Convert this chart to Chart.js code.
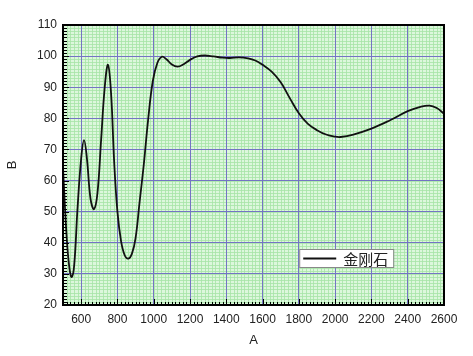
<!DOCTYPE html>
<html>
<head>
<meta charset="utf-8">
<script src="https://cdn.jsdelivr.net/npm/chart.js@4.4.0/dist/chart.umd.min.js"></script>
<style>
html,body{margin:0;padding:0;background:#fff;}
#wrap{width:473px;height:356px;}
</style>
</head>
<body>
<div id="wrap"><canvas id="c" width="473" height="356"></canvas></div>
<script>
const seriesName = '金刚石';
const xValues = [500,520,535,548,562,580,600,616,632,652,671,690,710,730,748,765,782,800,820,840,860,880,900,922,945,970,995,1020,1045,1070,1100,1132,1165,1200,1240,1280,1330,1380,1420,1470,1520,1560,1600,1650,1700,1750,1800,1850,1900,1950,2000,2030,2100,2200,2300,2400,2470,2520,2560,2600];
const yValues = [64,42,32,29,33,51,67,73,67,54,50.8,56,73,90,97.2,88,66,50,40.5,36,34.9,36.5,41.5,53,65,80,92,97.8,99.8,99,97.3,96.6,97.4,98.8,99.9,100.2,99.9,99.5,99.4,99.6,99.3,98.6,97.2,95,91.6,86.5,81.6,78.2,76.2,74.8,74.1,74,74.8,76.7,79.3,82.3,83.7,84.1,83.3,81.5];
const xTickLabels = [600,800,1000,1200,1400,1600,1800,2000,2200,2400,2600];
const yTickLabels = [20,30,40,50,60,70,80,90,100,110];
const xMin = 500, xMax = 2600, xMajor = 200, xMinor = 20;
const yMin = 20, yMax = 110, yMajor = 10, yMinor = 1;

const points = xValues.map((x,i)=>({x:x,y:yValues[i]}));

const paperPlugin = {
  id:'paper',
  beforeDraw(chart){
    const {ctx, chartArea:a, scales:{x,y}} = chart;
    ctx.save();
    ctx.fillStyle = '#dcf7dc';
    ctx.fillRect(a.left,a.top,a.right-a.left,a.bottom-a.top);
    ctx.strokeStyle = '#a6e3a6';
    ctx.lineWidth = 0.8;
    ctx.beginPath();
    for(let v=xMin; v<=xMax; v+=xMinor){
      const px = Math.round(x.getPixelForValue(v))+0.5;
      ctx.moveTo(px,a.top); ctx.lineTo(px,a.bottom);
    }
    for(let v=yMin; v<=yMax; v+=yMinor){
      const py = Math.round(y.getPixelForValue(v))+0.5;
      ctx.moveTo(a.left,py); ctx.lineTo(a.right,py);
    }
    ctx.stroke();
    ctx.restore();
  },
  afterDraw(chart){
    const {ctx, chartArea:a, scales:{x,y}} = chart;
    ctx.save();
    ctx.strokeStyle = '#000';
    ctx.lineWidth = 1;
    ctx.beginPath();
    for(let v=xMin; v<=xMax; v+=xMinor){
      const px = Math.round(x.getPixelForValue(v))+0.5;
      const len = (v % xMajor === 0) ? 6 : 3;
      ctx.moveTo(px,a.bottom); ctx.lineTo(px,a.bottom-len);
    }
    for(let v=yMin; v<=yMax; v+=yMinor){
      const py = Math.round(y.getPixelForValue(v))+0.5;
      const len = (v % yMajor === 0) ? 6 : 4;
      ctx.moveTo(a.left,py); ctx.lineTo(a.left+len,py);
    }
    ctx.stroke();
    ctx.lineWidth = 2;
    ctx.strokeRect(a.left,a.top,a.right-a.left,a.bottom-a.top);
    // legend
    const w = a.right-a.left, h = a.bottom-a.top;
    const lx = a.left + w*0.62, ly = a.top + h*0.80;
    const bw = 94, bh = 18;
    ctx.fillStyle = '#fff';
    ctx.fillRect(lx,ly,bw,bh);
    ctx.lineWidth = 1;
    ctx.strokeStyle = '#888';
    ctx.strokeRect(lx+0.5,ly+0.5,bw,bh);
    ctx.strokeStyle = '#111';
    ctx.lineWidth = 2;
    ctx.beginPath();
    ctx.moveTo(lx+4, ly+bh/2+0.5); ctx.lineTo(lx+37, ly+bh/2+0.5);
    ctx.stroke();
    ctx.fillStyle = '#222';
    ctx.font = '15px "Noto Sans CJK SC"';
    ctx.textBaseline = 'middle';
    ctx.textAlign = 'left';
    ctx.fillText(seriesName, lx+44, ly+bh/2+1);
    ctx.restore();
  }
};

new Chart(document.getElementById('c'), {
  type:'line',
  data:{datasets:[{
    label:seriesName,
    data:points,
    borderColor:'#111',
    borderWidth:1.8,
    pointRadius:0,
    fill:false,
    tension:0.4
  }]},
  options:{
    responsive:false,
    animation:false,
    layout:{padding:{top:25,right:29,left:5,bottom:8}},
    plugins:{legend:{display:false},tooltip:{enabled:false}},
    scales:{
      x:{
        type:'linear', min:xMin, max:xMax,
        afterFit(s){ s.height = 43; },
        afterBuildTicks(s){ s.ticks = [xMin].concat(xTickLabels).map(v=>({value:v})); },
        ticks:{
          color:'#222', padding:7, maxRotation:0, autoSkip:false,
          font:{family:'"Liberation Sans", Arial', size:12},
          callback:(v)=> xTickLabels.includes(v) ? String(v) : ''
        },
        grid:{color:'#7474c4', lineWidth:1, drawTicks:false},
        border:{display:false},
        title:{display:true, text:'A', color:'#222', padding:{top:4,bottom:0}, font:{family:'"Liberation Sans", Arial', size:13}}
      },
      y:{
        type:'linear', min:yMin, max:yMax,
        afterFit(s){ s.width = 58; },
        afterBuildTicks(s){ s.ticks = yTickLabels.map(v=>({value:v})); },
        ticks:{
          color:'#222', padding:6, autoSkip:false,
          font:{family:'"Liberation Sans", Arial', size:12},
          callback:(v)=> String(v)
        },
        grid:{color:'#7474c4', lineWidth:1, drawTicks:false},
        border:{display:false},
        title:{display:true, text:'B', color:'#222', padding:{top:0,bottom:20}, font:{family:'"Liberation Sans", Arial', size:13}}
      }
    }
  },
  plugins:[paperPlugin]
});
</script>
</body>
</html>
